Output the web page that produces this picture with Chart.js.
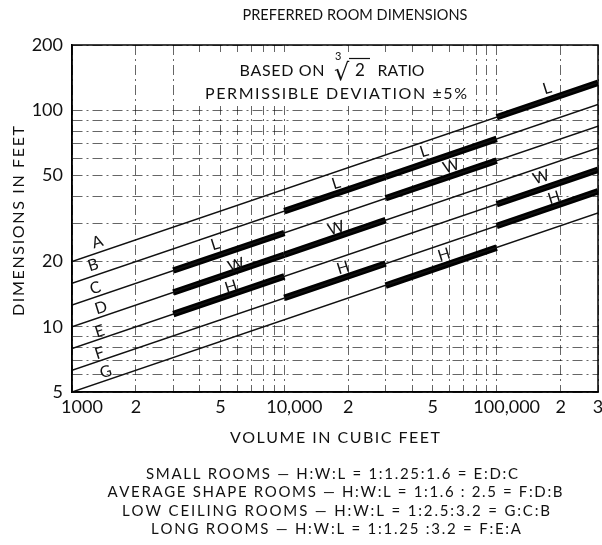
<!DOCTYPE html>
<html><head><meta charset="utf-8">
<script src="https://cdn.jsdelivr.net/npm/chart.js@4.4.0/dist/chart.umd.min.js"></script>
<style>html,body{margin:0;padding:0;background:#fff}#wrap{width:602px;height:545px}</style>
</head><body><div id="wrap"><canvas id="c" width="602" height="545"></canvas></div>
<script>
// ---- data ----
const lineNames  = ['A','B','C','D','E','F','G'];
const volumeEnds = [1000, 300000];
const lineStart  = [20, 15.87, 12.6, 10, 7.94, 6.3, 5];          // value at 1000 cu ft
const lineEnd    = [133.9, 106.3, 84.4, 66.9, 53.1, 42.2, 33.5]; // value at 300,000 cu ft

const roomTypes   = ['SMALL ROOMS','AVERAGE SHAPE ROOMS','LOW CEILING ROOMS','LONG ROOMS'];
const bandVolumes = [[3000,10000],[10000,30000],[30000,100000],[100000,300000]];
const bandL = [[18.2,27.1],[34.2,49.3],[49.3,73.7],[92.8,133.9]];
const bandW = [[14.4,21.5],[21.5,31.1],[39.2,58.5],[36.8,53.1]];
const bandH = [[11.45,17.1],[13.6,19.6],[15.5,23.2],[29.2,42.2]];

const xGridValues  = [1000,2000,3000,4000,5000,6000,7000,8000,9000,10000,20000,30000,40000,50000,60000,70000,80000,90000,100000,200000,300000];
const xLabelValues = [1000,2000,5000,10000,20000,50000,100000,200000,300000];
const xLabelTexts  = ['1000','2','5','10,000','2','5','100,000','2','3'];
const yGridValues  = [5,6,7,8,9,10,20,30,40,50,60,70,80,90,100,200];
const yLabelValues = [5,10,20,50,100,200];
const yLabelTexts  = ['5','10','20','50','100','200'];

const noteLines = [
  'SMALL ROOMS — H:W:L = 1:1.25:1.6 = E:D:C',
  'AVERAGE SHAPE ROOMS — H:W:L = 1:1.6 : 2.5 = F:D:B',
  'LOW CEILING ROOMS — H:W:L = 1:2.5:3.2 = G:C:B',
  'LONG ROOMS — H:W:L = 1:1.25 :3.2 = F:E:A'
];

// ---- datasets ----
const datasets = [];
lineNames.forEach((n,i)=>{
  datasets.push({label:n, data:[{x:volumeEnds[0],y:lineStart[i]},{x:volumeEnds[1],y:lineEnd[i]}],
    borderColor:'#111', borderWidth:1.5, pointRadius:0, showLine:true, fill:false});
});
[bandL,bandW,bandH].forEach((band,k)=>{
  band.forEach((seg,b)=>{
    datasets.push({label:roomTypes[b]+' '+['L','W','H'][k],
      data:[{x:bandVolumes[b][0],y:seg[0]},{x:bandVolumes[b][1],y:seg[1]}],
      borderColor:'#000', borderWidth:6.5, borderCapStyle:'butt', pointRadius:0, showLine:true, fill:false});
  });
});

const FONT = '"Lato","DejaVu Sans",sans-serif';

function drawSpaced(ctx, text, cx, cy, width, size, rot){
  ctx.save();
  ctx.font = size+'px '+FONT;
  ctx.textBaseline = 'middle';
  ctx.textAlign = 'left';
  ctx.fillStyle = '#111';
  const chars = [...text];
  const ws = chars.map(c=>ctx.measureText(c).width);
  const nat = ws.reduce((a,b)=>a+b,0);
  let sp = chars.length>1 ? (width-nat)/(chars.length-1) : 0;
  ctx.translate(cx, cy);
  if (rot) ctx.rotate(rot);
  let sx = 1;
  if (sp < 0) { sx = width/nat; sp = 0; ctx.scale(sx,1); }
  let x = -width/2/sx;
  chars.forEach((c,i)=>{ ctx.fillText(c, x, 0); x += ws[i]+sp; });
  ctx.restore();
}

const textPlugin = {
  id:'texts',
  beforeDatasetsDraw(chart){
    const ctx = chart.ctx;
    ctx.save(); ctx.fillStyle='#fff'; ctx.fillRect(198,52,276,54); ctx.restore();
  },
  afterDraw(chart){
    const ctx = chart.ctx, a = chart.chartArea;
    // frame
    ctx.save(); ctx.strokeStyle='#000'; ctx.lineWidth=1.5;
    ctx.strokeRect(a.left, a.top, a.right-a.left, a.bottom-a.top); ctx.restore();
    // x tick labels
    const xs = chart.scales.x;
    ctx.save(); ctx.font='18px '+FONT; ctx.fillStyle='#111'; ctx.textAlign='center'; ctx.textBaseline='middle';
    xLabelValues.forEach((v,i)=>{
      const t = xLabelTexts[i];
      ctx.fillText(t, xs.getPixelForValue(v) + (t.length>1?10:0), a.bottom+15);
    });
    ctx.restore();
    // titles
    drawSpaced(ctx,'PREFERRED ROOM DIMENSIONS',355,15,225,15);
    drawSpaced(ctx,'VOLUME IN CUBIC FEET',335,438,210,16);
    drawSpaced(ctx,'DIMENSIONS IN FEET',19,221,190,16,-Math.PI/2);
    drawSpaced(ctx,'BASED ON',282,71,85,16);
    ctx.save(); ctx.fillStyle='#111'; ctx.textBaseline='alphabetic'; ctx.textAlign='left';
    ctx.font='24px "DejaVu Sans",sans-serif'; ctx.fillText('√',334,80);
    ctx.font='11px '+FONT; ctx.fillText('3',335,60);
    ctx.restore();
    ctx.save(); ctx.strokeStyle='#111'; ctx.lineWidth=1.2; ctx.beginPath();
    ctx.moveTo(349,58.5); ctx.lineTo(370,58.5); ctx.stroke(); ctx.restore();
    drawSpaced(ctx,'2',360,71,10,17);
    drawSpaced(ctx,'RATIO',401,71,47,16);
    drawSpaced(ctx,'PERMISSIBLE DEVIATION ±5%',336,94,262,16);
    // notes
    const noteY=[474,492,511,529], noteW=[372,455,428,370], noteX=[332,335,336,336];
    noteLines.forEach((t,i)=>drawSpaced(ctx,t,noteX[i],noteY[i],noteW[i],15));
    // line letters
    const rot=-0.3;
    const lp=[[97,242],[93,265],[95,288],[100,308],[100,331],[100,353],[105,372]];
    lineNames.forEach((n,i)=>drawSpaced(ctx,n,lp[i][0],lp[i][1],10,16,rot));
    const dims=[['L',216,244],['W',233,266],['H',230,287],
                ['L',337,183],['W',333,229],['H',342,268],
                ['L',425,151],['W',448,167],['H',443,255],
                ['L',548,88],['W',538,178],['H',553,198]];
    dims.forEach(d=>drawSpaced(ctx,d[0],d[1],d[2],10,16,rot));
  }
};

new Chart(document.getElementById('c'), {
  type:'scatter',
  data:{datasets},
  plugins:[textPlugin],
  options:{
    responsive:false, animation:false, devicePixelRatio:1,
    layout:{padding:{left:0,right:4,top:45,bottom:0}},
    plugins:{legend:{display:false}, tooltip:{enabled:false}},
    scales:{
      x:{type:'logarithmic', min:1000, max:300000,
        afterBuildTicks:s=>{ s.ticks = xGridValues.map(v=>({value:v})); },
        afterFit:s=>{ s.height = 153; },
        ticks:{display:false, autoSkip:false},
        grid:{color:'rgba(0,0,0,0.6)', lineWidth:1, drawTicks:false},
        border:{color:'#000', width:1.5, dash:[10,4,2,4]}
      },
      y:{type:'logarithmic', min:5, max:200,
        afterBuildTicks:s=>{ s.ticks = yGridValues.map(v=>({value:v})); },
        afterFit:s=>{ s.width = 72; },
        ticks:{autoSkip:false, padding:9, color:'#111', font:{family:FONT, size:18},
          callback:v=>{ const i=yLabelValues.indexOf(v); return i>=0 ? yLabelTexts[i] : ''; }},
        grid:{color:'rgba(0,0,0,0.6)', lineWidth:1, drawTicks:false},
        border:{color:'#000', width:1.5, dash:[10,4,2,4]}
      }
    }
  }
});
</script></body></html>
